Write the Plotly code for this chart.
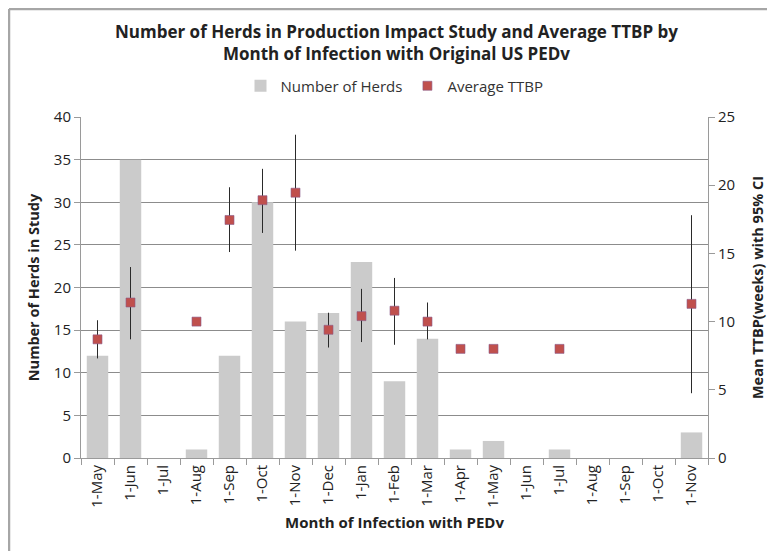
import plotly.graph_objects as go

months = ["1-May", "1-Jun", "1-Jul", "1-Aug", "1-Sep", "1-Oct", "1-Nov", "1-Dec", "1-Jan",
          "1-Feb", "1-Mar", "1-Apr", "1-May", "1-Jun", "1-Jul", "1-Aug", "1-Sep", "1-Oct", "1-Nov"]
herds = [12, 35, 0, 1, 12, 30, 16, 17, 23, 9, 14, 1, 2, 0, 1, 0, 0, 0, 3]
ttbp = [8.7, 11.4, None, 10.0, 17.45, 18.9, 19.45, 9.4, 10.4, 10.8, 10.0, 8.0, 8.0, None, 8.0,
        None, None, None, 11.3]
ci_upper = [10.1, 14.0, None, 10.0, 19.85, 21.2, 23.7, 10.65, 12.4, 13.2, 11.4, 8.0, 8.0, None, 8.0,
            None, None, None, 17.8]
ci_lower = [7.3, 8.7, None, 10.0, 15.1, 16.5, 15.2, 8.1, 8.5, 8.3, 8.7, 8.0, 8.0, None, 8.0,
            None, None, None, 4.75]

idx = list(range(len(months)))
err_plus = [(u - m) if m is not None else 0 for u, m in zip(ci_upper, ttbp)]
err_minus = [(m - l) if m is not None else 0 for l, m in zip(ci_lower, ttbp)]

W, H = 767, 543
L, R, T, B = 73, 67, 109, 93
pw, ph = W - L - R, H - T - B

font = "Open Sans"
fig = go.Figure()
fig.add_trace(go.Bar(
    x=idx, y=herds, name="Number of Herds", marker=dict(color="#cbcbcb", line=dict(width=0)),
    width=0.65, yaxis="y"))
fig.add_trace(go.Scatter(
    x=idx, y=ttbp, name="Average TTBP", mode="markers", yaxis="y2",
    marker=dict(symbol="square", size=9, color="#c0504d", line=dict(color="#8a5a8a", width=0.6)),
    error_y=dict(type="data", symmetric=False, array=err_plus, arrayminus=err_minus,
                 color="#2a2a2a", thickness=1, width=0)))

fig.update_layout(
    width=W, height=H,
    margin=dict(l=L, r=R, t=T, b=B),
    paper_bgcolor="white", plot_bgcolor="white",
    font=dict(family=font, size=13, color="#222222"),
    title=dict(text="<b>Number of Herds in Production Impact Study and Average TTBP by<br>Month of Infection with Original US PEDv</b>",
               x=0.5065, xanchor="center", y=1 - 30 / H, yanchor="top",
               font=dict(family=font, size=17, color="#222222")),
    showlegend=True,
    legend=dict(orientation="h", x=0.5, xanchor="center", y=1 + 31 / ph, yanchor="middle",
                font=dict(size=15, color="#333333"), traceorder="normal", itemwidth=30),
    xaxis=dict(range=[-0.5, 18.5], tickmode="array", tickvals=idx, ticktext=months,
               tickangle=-90, ticks="", showgrid=False, showline=True, linecolor="#9a9a9a",
               tickfont=dict(size=15, color="#222222"), zeroline=False,
               minor=dict(tickmode="array", tickvals=[i - 0.5 for i in range(len(months) + 1)],
                          ticks="outside", ticklen=6, tickcolor="#9a9a9a", showgrid=False),
               title=dict(text="<b>Month of Infection with PEDv</b>", font=dict(size=15), standoff=10)),
    yaxis=dict(range=[0, 40], dtick=5, showgrid=True, gridcolor="#8c8c8c", gridwidth=1,
               showline=True, linecolor="#9a9a9a", ticks="outside", ticklen=6, tickcolor="#9a9a9a",
               zeroline=False, tickfont=dict(size=15, color="#222222"),
               title=dict(text="<b>Number of Herds in Study</b>", font=dict(size=14.5), standoff=10)),
    yaxis2=dict(range=[0, 25], dtick=5, overlaying="y", side="right", showgrid=False,
                showline=True, linecolor="#9a9a9a", ticks="outside", ticklen=6, tickcolor="#9a9a9a",
                zeroline=False, tickfont=dict(size=15, color="#222222"),
                title=dict(text="<b>Mean TTBP(weeks) with 95% CI</b>", font=dict(size=14.5), standoff=18)),
)

# chart-area frame: top and left edges (the picture is cropped at right/bottom)
x_left = -(L - 1) / pw
x_right = (W - L) / pw
y_top = 1 + (T - 1) / ph
y_bottom = -B / ph
fig.add_shape(type="line", xref="paper", yref="paper", x0=x_left, x1=x_right, y0=y_top, y1=y_top,
              line=dict(color="#a6a6a6", width=2.5), layer="below")
fig.add_shape(type="line", xref="paper", yref="paper", x0=x_left, x1=x_left, y0=y_bottom, y1=y_top,
              line=dict(color="#a6a6a6", width=2.5), layer="below")

fig.write_html("out.html")
